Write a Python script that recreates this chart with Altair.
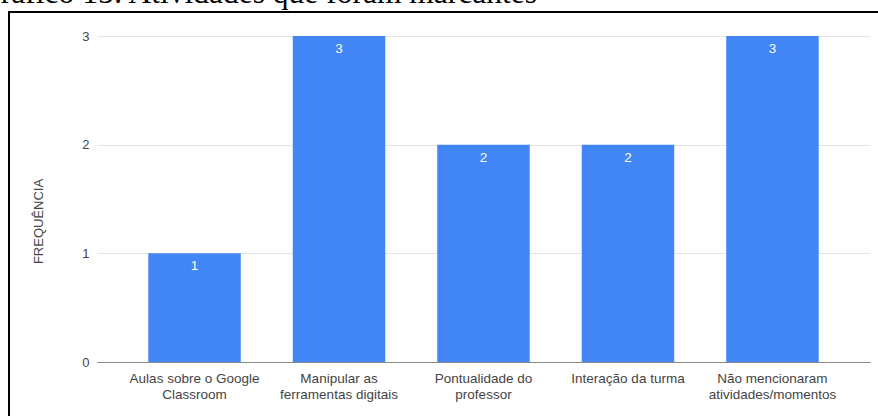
import altair as alt
import pandas as pd

# ---- data ----
categories = [
    "Aulas sobre o Google|Classroom",
    "Manipular as|ferramentas digitais",
    "Pontualidade do|professor",
    "Interação da turma",
    "Não mencionaram|atividades/momentos",
]
values = [1, 3, 2, 2, 3]
y_ticks = [0, 1, 2, 3]
title_text = ["Gráfico 15: Atividades que foram marcantes"]
y_title = "FREQUÊNCIA"

df = pd.DataFrame({"cat": categories, "val": values})
one = pd.DataFrame({"t": title_text})

FONT = "Liberation Sans"
GRAY = "#444444"

x_enc = alt.X(
    "cat:N",
    sort=None,
    scale=alt.Scale(paddingInner=0.36, paddingOuter=0.355),
    axis=alt.Axis(
        title=None,
        labelAngle=0,
        labelExpr="split(datum.value, '|')",
        labelFont=FONT,
        labelFontSize=13.5,
        labelColor=GRAY,
        labelLineHeight=16,
        labelLimit=250,
        ticks=False,
        labelPadding=9,
        domainColor="#8a8a8a",
        domainWidth=1,
    ),
)
y_enc = alt.Y(
    "val:Q",
    scale=alt.Scale(domain=[0, 3], nice=False),
    axis=alt.Axis(
        values=y_ticks,
        format="d",
        title=y_title,
        titleFont=FONT,
        titleFontSize=13,
        titleFontWeight="normal",
        titleColor=GRAY,
        titleX=-59,
        titleY=185,
        titleAngle=270,
        titleAlign="center",
        titleBaseline="middle",
        labelFont=FONT,
        labelFontSize=13,
        labelColor=GRAY,
        labelPadding=8,
        ticks=False,
        domain=False,
        gridColor="#e4e4e4",
    ),
)

bars = alt.Chart(df).mark_bar(color="#4285F4").encode(x=x_enc, y=y_enc)

labels = alt.Chart(df).mark_text(
    color="white", font=FONT, fontSize=13.5, baseline="middle", dy=13
).encode(x=alt.X("cat:N", sort=None), y="val:Q", text="val:Q")

left_border = alt.Chart(one).mark_rule(color="black", strokeWidth=2).encode(
    x=alt.value(-88), y=alt.value(-25), y2=alt.value(400)
)
top_border = alt.Chart(one).mark_rule(color="black", strokeWidth=2).encode(
    x=alt.value(-89), x2=alt.value(800), y=alt.value(-24)
)
title = alt.Chart(one).mark_text(
    font="Liberation Serif", fontSize=31.5, align="right", baseline="alphabetic", color="black"
).encode(x=alt.value(440), y=alt.value(-33), text="t:N")

chart = (
    alt.layer(bars, labels, left_border, top_border, title)
    .properties(
        width=773,
        height=326,
        padding={"left": 97, "top": 36, "right": 8, "bottom": 54},
        autosize=alt.AutoSizeParams(type="none"),
        background="white",
    )
    .configure_view(stroke=None)
)

chart.save("out.html", embed_options={"renderer": "svg", "actions": False})
